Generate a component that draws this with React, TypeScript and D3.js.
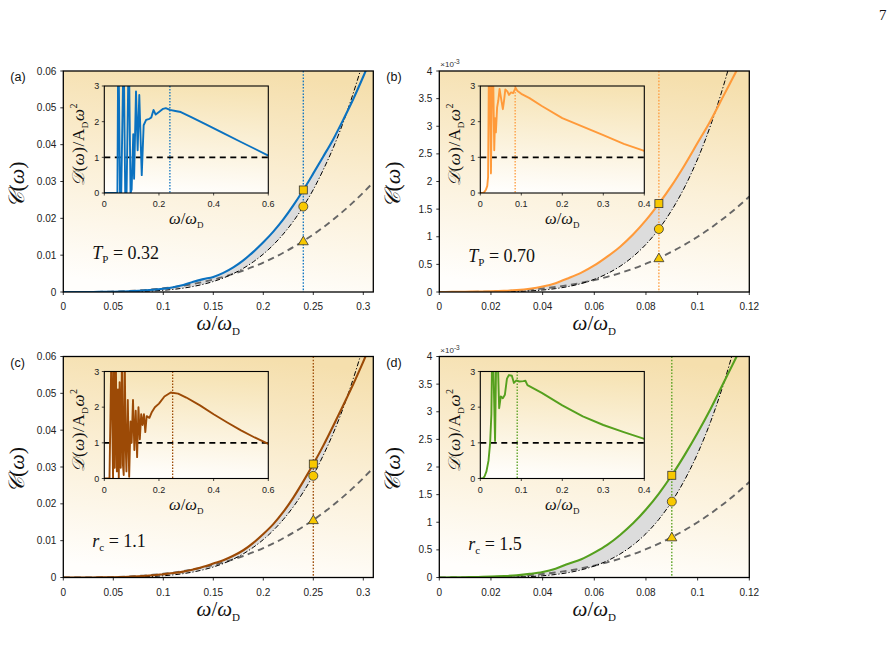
import React from 'react';
import * as d3 from 'd3';

// ---------- data ----------
const omegaAC = [0,0.01,0.02,0.03,0.04,0.05,0.06,0.07,0.08,0.09,0.1,0.11,0.12,0.13,0.14,0.15,0.16,0.17,0.18,0.19,0.2,0.21,0.22,0.23,0.24,0.25,0.26,0.27,0.28,0.29,0.3,0.31];
const blackAC = [0,0,0.0000004,0.000002,0.0000079,0.0000212,0.0000479,0.0000953,0.00017,0.00029,0.00047,0.00071,0.00105,0.00151,0.0021,0.00285,0.0038,0.00498,0.00643,0.00819,0.01029,0.01279,0.01574,0.01919,0.0232,0.0278,0.0332,0.0392,0.0461,0.054,0.0628,0.0726];
const dashedAC = [0,0.000001,0.000008,0.000027,0.000064,0.000125,0.000216,0.000343,0.000512,0.000729,0.001,0.001331,0.001728,0.002197,0.002744,0.003375,0.004096,0.004913,0.005832,0.006859,0.008,0.009261,0.010648,0.012167,0.013824,0.015625,0.017576,0.019683,0.021952,0.024389,0.027,0.029791];
const blueA = [0,0,0.00001,0.00002,0.00004,0.00008,0.00015,0.00025,0.0004,0.0006,0.0009,0.0013,0.0019,0.0028,0.0035,0.0041,0.0052,0.0067,0.0086,0.0109,0.0135,0.0164,0.0197,0.0235,0.0277,0.0322,0.0368,0.0415,0.0468,0.0524,0.0585,0.065];
const brownC = [0,0,0.00001,0.00002,0.00004,0.00008,0.00015,0.00025,0.0004,0.0006,0.0009,0.0012,0.0016,0.0022,0.0029,0.0038,0.0047,0.0059,0.0074,0.0094,0.0118,0.0145,0.0178,0.0217,0.0261,0.0308,0.0358,0.0412,0.0468,0.0525,0.0586,0.065];

const omegaBD = [0,0.005,0.01,0.015,0.02,0.025,0.03,0.035,0.04,0.045,0.05,0.055,0.06,0.065,0.07,0.075,0.08,0.085,0.09,0.095,0.1,0.105,0.11,0.115,0.12];
const blackB = [0,0,0.00006,0.0004,0.0015,0.0041,0.0095,0.0192,0.0356,0.0611,0.0993,0.154,0.2297,0.332,0.4666,0.641,0.8625,1.14,1.483,1.901,2.408,3.013,3.732,4.58,5.57];
const orangeB = [0,0.002,0.005,0.008,0.012,0.02,0.035,0.06,0.1,0.16,0.25,0.35,0.48,0.64,0.82,1.04,1.3,1.6,1.93,2.3,2.7,3.1,3.55,4.0,4.45];
const dashedBD = [0,0.000125,0.001,0.0034,0.008,0.0156,0.027,0.0429,0.064,0.0911,0.125,0.1664,0.216,0.2746,0.343,0.4219,0.512,0.6141,0.729,0.8574,1.0,1.1576,1.331,1.5209,1.728];
const blackD = [0,0,0.00005,0.0003,0.0012,0.0035,0.0082,0.0169,0.0314,0.0544,0.0888,0.1385,0.2077,0.3016,0.4259,0.5875,0.7936,1.0526,1.374,1.768,2.245,2.818,3.5,4.307,5.25];
const greenD = [0,0.002,0.005,0.01,0.015,0.025,0.04,0.065,0.1,0.16,0.25,0.33,0.45,0.59,0.77,0.98,1.23,1.52,1.85,2.22,2.62,3.05,3.52,3.99,4.45];

// markers: omega, square (colored curve), circle (dash-dot), triangle (dashed)
const markerOmega = [0.24, 0.085, 0.25, 0.09];
const squareVals = [0.0277, 1.6, 0.0308, 1.85];
const circleVals = [0.0232, 1.14, 0.0276, 1.374];
const triangleVals = [0.0138, 0.614, 0.0156, 0.729];

// insets D(ω)/A_D ω^2
const insetAx = [0,0.048,0.0505,0.0525,0.0575,0.062,0.0695,0.0715,0.0765,0.0815,0.0885,0.0905,0.096,0.1,0.106,0.109,0.116,0.122,0.128,0.137,0.144,0.153,0.165,0.172,0.18,0.188,0.2,0.215,0.225,0.24,0.26,0.28,0.32,0.37,0.43,0.5,0.55,0.6];
const insetAy = [0,0,3.6,3.6,0,0,3.6,3.6,0,0,3.6,3.6,0,0.1,1.65,0.4,2.85,1.2,2.75,0.5,1.9,2.05,2.08,2.12,2.33,2.2,2.27,2.36,2.38,2.33,2.3,2.27,2.12,1.93,1.7,1.43,1.24,1.05];
const insetBx = [0,0.006,0.01,0.014,0.017,0.019,0.021,0.023,0.026,0.029,0.031,0.034,0.036,0.038,0.041,0.044,0.047,0.05,0.055,0.058,0.061,0.066,0.07,0.075,0.08,0.086,0.09,0.1,0.12,0.15,0.2,0.25,0.3,0.35,0.4];
const insetBy = [0,0,0.03,0.1,0.2,0.45,3.6,3.6,0.55,3.6,3.6,1.2,2.1,1.7,2.4,2.6,2.92,2.7,2.35,2.6,2.9,2.85,2.75,2.82,2.8,2.95,2.87,2.78,2.66,2.44,2.1,1.86,1.62,1.38,1.18];
const insetCx = [0,0.019,0.026,0.032,0.035,0.038,0.042,0.046,0.05,0.053,0.056,0.06,0.065,0.068,0.071,0.075,0.078,0.081,0.086,0.091,0.096,0.1,0.105,0.11,0.115,0.12,0.125,0.13,0.135,0.14,0.145,0.15,0.155,0.165,0.173,0.185,0.2,0.22,0.243,0.27,0.3,0.35,0.4,0.45,0.5,0.55,0.6];
const insetCy = [0,0,3.6,0,3.6,0.3,3.6,0.2,2.5,0,2.7,0.3,3.6,0.4,0.1,3.2,1.0,0.2,2.2,0.05,1.6,1.0,2.2,0.8,1.9,0.6,2.0,1.1,1.8,1.5,1.8,1.3,1.75,1.7,1.85,2.0,2.1,2.3,2.41,2.38,2.27,2.05,1.8,1.57,1.35,1.15,0.97];
const insetDx = [0,0.006,0.01,0.015,0.02,0.024,0.027,0.029,0.031,0.036,0.039,0.042,0.046,0.05,0.055,0.06,0.065,0.07,0.077,0.082,0.088,0.095,0.105,0.11,0.115,0.15,0.2,0.25,0.3,0.35,0.4];
const insetDy = [0,0,0.05,0.2,0.5,1.0,1.8,3.6,3.6,1.05,3.6,3.6,1.97,2.3,2.25,2.35,2.8,2.9,2.88,2.68,2.75,2.72,2.73,2.74,2.62,2.4,2.05,1.74,1.5,1.3,1.11];

const xTicksAC = [0,0.05,0.1,0.15,0.2,0.25,0.3];
const yTicksAC = [0,0.01,0.02,0.03,0.04,0.05,0.06];
const xTicksBD = [0,0.02,0.04,0.06,0.08,0.1,0.12];
const yTicksBD = [0,0.5,1,1.5,2,2.5,3,3.5,4];
const insetXTicksAC = [0,0.2,0.4,0.6];
const insetXTicksBD = [0,0.1,0.2,0.3,0.4];
const insetYTicks = [0,1,2,3];

const panelLabels = ['(a)','(b)','(c)','(d)'];
const noteSymbols = ['T','T','r','r'];
const noteSubs = ['P','P','c','c'];
const noteValues = ['0.32','0.70','1.1','1.5'];

// ---------- layout / style ----------
const PW = 310, PH = 221;
const IW = 164, IH = 107, IDX = 41, IDY = 15;
const serif = '"Liberation Serif", "DejaVu Serif", serif';
const sans = '"Liberation Sans", Arial, sans-serif';
const fmt = (v: number) => String(+v.toFixed(4));

type Spec = {
  i: number; left: number; top: number; xMax: number; yMax: number;
  xTicks: number[]; yTicks: number[]; omega: number[]; colored: number[]; black: number[]; dashed: number[];
  color: string; insetX: number[]; insetY: number[]; insetXMax: number; insetXTicks: number[];
  scaleLabel: boolean; noteDy: number;
};

const specs: Spec[] = [
  { i: 0, left: 63.3, top: 71, xMax: 0.31, yMax: 0.06, xTicks: xTicksAC, yTicks: yTicksAC, omega: omegaAC, colored: blueA, black: blackAC, dashed: dashedAC, color: '#0b72c0', insetX: insetAx, insetY: insetAy, insetXMax: 0.6, insetXTicks: insetXTicksAC, scaleLabel: false, noteDy: 188 },
  { i: 1, left: 439.3, top: 71, xMax: 0.12, yMax: 4, xTicks: xTicksBD, yTicks: yTicksBD, omega: omegaBD, colored: orangeB, black: blackB, dashed: dashedBD, color: '#ff9a3a', insetX: insetBx, insetY: insetBy, insetXMax: 0.4, insetXTicks: insetXTicksBD, scaleLabel: true, noteDy: 191 },
  { i: 2, left: 63.3, top: 356.5, xMax: 0.31, yMax: 0.06, xTicks: xTicksAC, yTicks: yTicksAC, omega: omegaAC, colored: brownC, black: blackAC, dashed: dashedAC, color: '#9c4a06', insetX: insetCx, insetY: insetCy, insetXMax: 0.6, insetXTicks: insetXTicksAC, scaleLabel: false, noteDy: 190 },
  { i: 3, left: 439.3, top: 356.5, xMax: 0.12, yMax: 4, xTicks: xTicksBD, yTicks: yTicksBD, omega: omegaBD, colored: greenD, black: blackD, dashed: dashedBD, color: '#55a01e', insetX: insetDx, insetY: insetDy, insetXMax: 0.4, insetXTicks: insetXTicksBD, scaleLabel: true, noteDy: 193 },
];

function Panel({ p }: { p: Spec }) {
  const x = d3.scaleLinear().domain([0, p.xMax]).range([p.left, p.left + PW]);
  const y = d3.scaleLinear().domain([0, p.yMax]).range([p.top + PH, p.top]);
  const pts = p.omega.map((o, k) => ({ o, c: p.colored[k], b: p.black[k], d: p.dashed[k] }));
  const mk = (key: 'c' | 'b' | 'd') =>
    d3.line<any>().x((d) => x(d.o)).y((d) => y(d[key])).curve(d3.curveMonotoneX)(pts) || '';
  const fill = d3.area<any>().x((d) => x(d.o)).y0((d) => y(d.b)).y1((d) => y(Math.max(d.c, d.b))).curve(d3.curveMonotoneX)(pts) || '';

  const il = p.left + IDX, it = p.top + IDY;
  const ix = d3.scaleLinear().domain([0, p.insetXMax]).range([il, il + IW]);
  const iy = d3.scaleLinear().domain([0, 3]).range([it + IH, it]);
  const ipts = p.insetX.map((v, k) => [v, p.insetY[k]] as [number, number]);
  const iline = d3.line<[number, number]>().x((d) => ix(d[0])).y((d) => iy(d[1]))(ipts) || '';

  const m = markerOmega[p.i];
  const mx = x(m);
  const sq = y(squareVals[p.i]), ci = y(circleVals[p.i]), tr = y(triangleVals[p.i]);
  const clipId = `clip${p.i}`, iclipId = `iclip${p.i}`;
  const bottom = p.top + PH;

  return (
    <g>
      <defs>
        <clipPath id={clipId}><rect x={p.left} y={p.top} width={PW} height={PH} /></clipPath>
        <clipPath id={iclipId}><rect x={il} y={it} width={IW} height={IH} /></clipPath>
      </defs>
      <rect x={p.left} y={p.top} width={PW} height={PH} fill="url(#bgGrad)" />
      <g clipPath={`url(#${clipId})`}>
        <path d={fill} fill="#dcdcdc" stroke="none" />
        <line x1={mx} x2={mx} y1={p.top} y2={bottom} stroke={p.color} strokeWidth={1.3} strokeDasharray="1.6,1.6" />
        <path d={mk('d')} fill="none" stroke="#666" strokeWidth={1.9} strokeDasharray="6.5,4.5" />
        <path d={mk('b')} fill="none" stroke="#000" strokeWidth={1} strokeDasharray="5,2,1.2,2" />
        <path d={mk('c')} fill="none" stroke={p.color} strokeWidth={2.1} />
      </g>
      {/* markers */}
      <rect x={mx - 4} y={sq - 4} width={8} height={8} fill="#f8c800" stroke="#333" strokeWidth={0.8} />
      <circle cx={mx} cy={ci} r={4.5} fill="#f8c800" stroke="#333" strokeWidth={0.8} />
      <path d={`M${mx},${tr - 5} L${mx + 5},${tr + 3.6} L${mx - 5},${tr + 3.6} Z`} fill="#f8c800" stroke="#333" strokeWidth={0.8} />

      {/* frame */}
      <rect x={p.left} y={p.top} width={PW} height={PH} fill="none" stroke="#000" strokeWidth={1.3} />
      {p.xTicks.map((t) => (
        <g key={'xt' + t}>
          <line x1={x(t)} x2={x(t)} y1={bottom} y2={bottom + 3} stroke="#000" strokeWidth={0.8} />
          <text x={x(t)} y={bottom + 18} fontSize={10} fontFamily={sans} textAnchor="middle" fill="#222">{fmt(t)}</text>
        </g>
      ))}
      {p.yTicks.map((t) => (
        <g key={'yt' + t}>
          <line x1={p.left - 3} x2={p.left} y1={y(t)} y2={y(t)} stroke="#000" strokeWidth={0.8} />
          <text x={p.left - 7} y={y(t) + 3.5} fontSize={10} fontFamily={sans} textAnchor="end" fill="#222">{fmt(t)}</text>
        </g>
      ))}
      {p.scaleLabel && (
        <text x={p.left + 1} y={p.top - 4} fontSize={8} fontFamily={sans} fill="#333">
          ×10<tspan fontSize={6.5} dy={-3}>-3</tspan>
        </text>
      )}
      <text x={p.left - 53} y={p.top + 10} fontSize={12.5} fontFamily={sans} fill="#111">{panelLabels[p.i]}</text>
      {/* y label */}
      <text transform={`translate(${p.left - 39},${p.top + PH / 2 + 3}) rotate(-90)`} textAnchor="middle" fontSize={22} fontFamily={serif} fill="#111">
        <tspan fontStyle="italic">𝒞</tspan>(<tspan fontStyle="italic">ω</tspan>)
      </text>
      {/* x label */}
      <text x={p.left + PW / 2} y={bottom + 38} textAnchor="middle" fontSize={21} fontFamily={serif} fill="#111">
        <tspan fontStyle="italic">ω</tspan>/<tspan fontStyle="italic">ω</tspan><tspan fontSize={11} dy={5}>D</tspan>
      </text>
      {/* note */}
      <text x={p.left + 29} y={p.top + p.noteDy} fontSize={18} fontFamily={serif} fill="#111">
        <tspan fontStyle="italic">{noteSymbols[p.i]}</tspan>
        <tspan fontSize={11} dy={4}>{noteSubs[p.i]}</tspan>
        <tspan dy={-4}> = {noteValues[p.i]}</tspan>
      </text>

      {/* inset */}
      <rect x={il} y={it} width={IW} height={IH} fill="url(#insetGrad)" />
      <g clipPath={`url(#${iclipId})`}>
        <line x1={ix(m)} x2={ix(m)} y1={it} y2={it + IH} stroke={p.color} strokeWidth={1.3} strokeDasharray="1.5,1.5" />
        <line x1={il} x2={il + IW} y1={iy(1)} y2={iy(1)} stroke="#000" strokeWidth={1.8} strokeDasharray="6,4.5" />
        <path d={iline} fill="none" stroke={p.color} strokeWidth={1.9} strokeLinejoin="round" />
      </g>
      <rect x={il} y={it} width={IW} height={IH} fill="none" stroke="#000" strokeWidth={1.1} />
      {p.insetXTicks.map((t) => (
        <g key={'ixt' + t}>
          <line x1={ix(t)} x2={ix(t)} y1={it + IH} y2={it + IH + 2.5} stroke="#000" strokeWidth={0.7} />
          <text x={ix(t)} y={it + IH + 14} fontSize={9} fontFamily={sans} textAnchor="middle" fill="#222">{fmt(t)}</text>
        </g>
      ))}
      {insetYTicks.map((t) => (
        <g key={'iyt' + t}>
          <line x1={il - 2.5} x2={il} y1={iy(t)} y2={iy(t)} stroke="#000" strokeWidth={0.7} />
          <text x={il - 5} y={iy(t) + 3.2} fontSize={9} fontFamily={sans} textAnchor="end" fill="#222">{t}</text>
        </g>
      ))}
      <text x={il + IW / 2} y={it + IH + 31} textAnchor="middle" fontSize={16.5} fontFamily={serif} fill="#111">
        <tspan fontStyle="italic">ω</tspan>/<tspan fontStyle="italic">ω</tspan><tspan fontSize={9} dy={4}>D</tspan>
      </text>
      <text transform={`translate(${il - 20},${it + IH / 2 + 5}) rotate(-90)`} textAnchor="middle" fontSize={17} fontFamily={serif} fill="#111" letterSpacing={0.6}>
        <tspan fontStyle="italic">𝒟</tspan>(<tspan fontStyle="italic">ω</tspan>)/A<tspan fontSize={9} dy={4}>D</tspan><tspan fontStyle="italic" dy={-4}>ω</tspan><tspan fontSize={10} dy={-7}>2</tspan>
      </text>
    </g>
  );
}

export default function App() {
  return (
    <svg width={896} height={655} style={{ position: 'absolute', left: 0, top: 0, background: '#fff' }}>
      <defs>
        <linearGradient id="bgGrad" x1="0.42" y1="1" x2="0.58" y2="0">
          <stop offset="0" stopColor="#fffefc" />
          <stop offset="0.5" stopColor="#fbf0d8" />
          <stop offset="1" stopColor="#f5dfad" />
        </linearGradient>
        <linearGradient id="insetGrad" x1="0.45" y1="1" x2="0.55" y2="0">
          <stop offset="0" stopColor="#fffefc" />
          <stop offset="1" stopColor="#f6e3b4" />
        </linearGradient>
      </defs>
      <rect x={0} y={0} width={896} height={655} fill="#fff" />
      <text x={879} y={20} fontSize={15} fontFamily={serif} fill="#111">7</text>
      {specs.map((p) => <Panel key={p.i} p={p} />)}
    </svg>
  );
}
